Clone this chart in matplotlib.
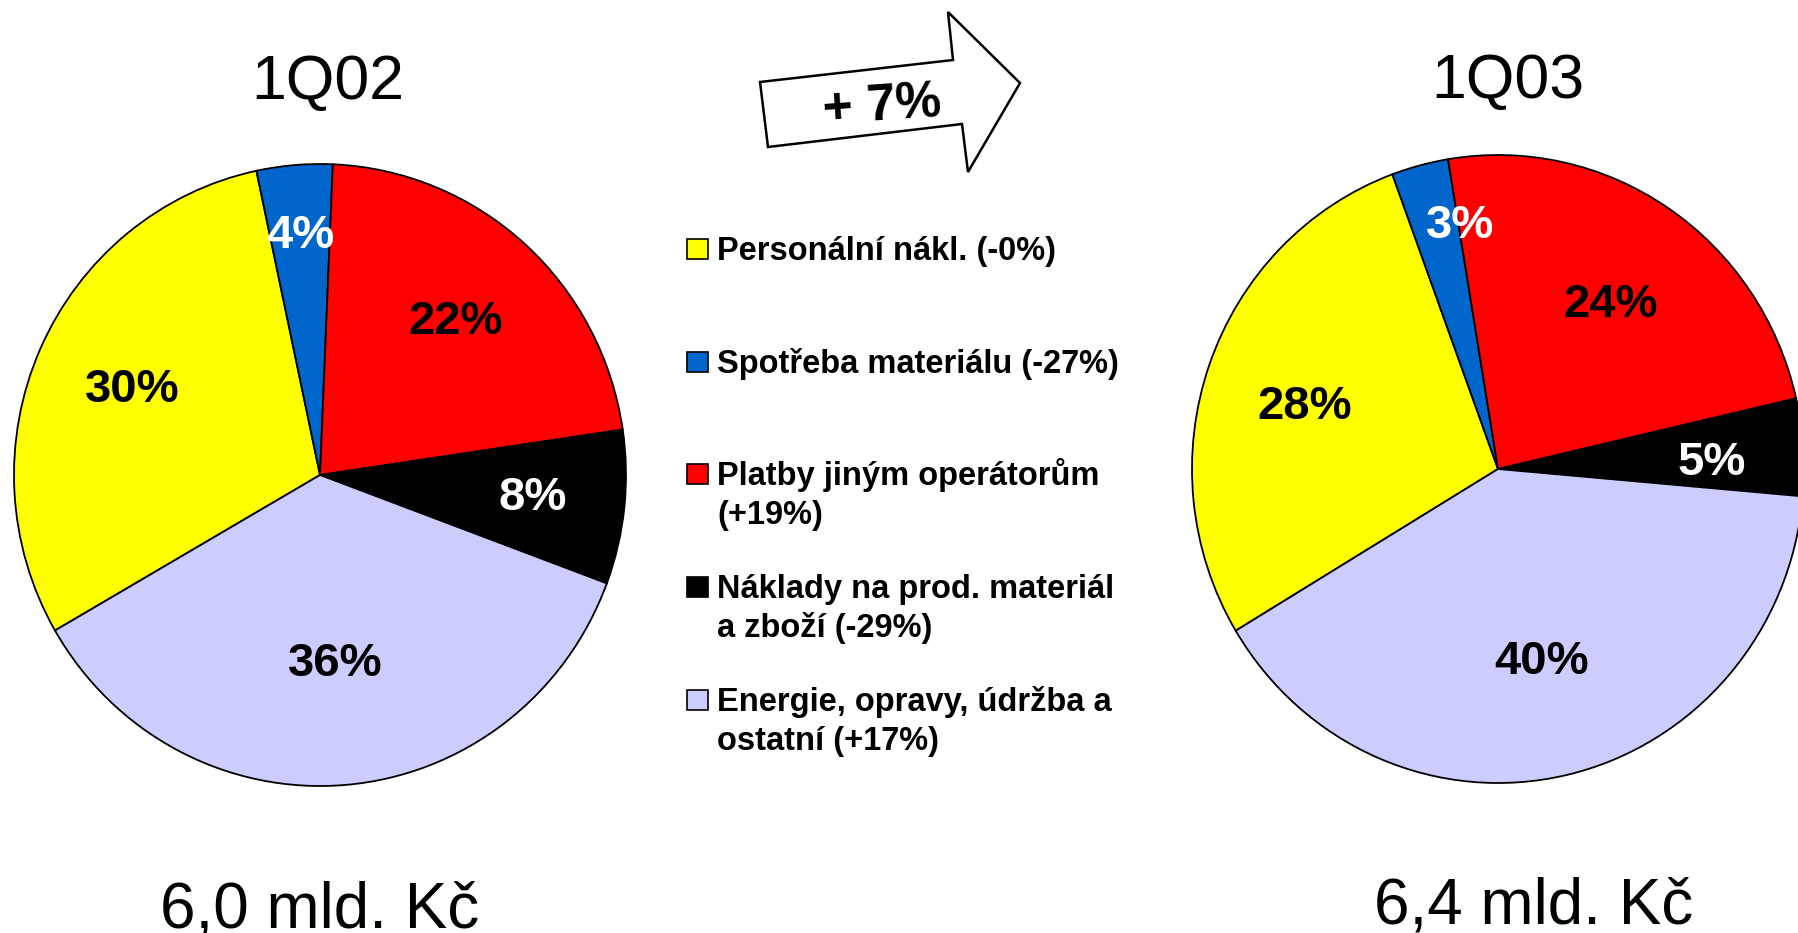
import matplotlib
matplotlib.use("Agg")
import matplotlib.pyplot as plt
from matplotlib.patches import Polygon, Rectangle

plt.rcParams['font.family'] = ['Liberation Sans', 'DejaVu Sans']

# data
categories = ["Personální nákl. (-0%)",
              "Spotřeba materiálu (-27%)",
              "Platby jiným operátorům\n(+19%)",
              "Náklady na prod. materiál\na zboží (-29%)",
              "Energie, opravy, údržba a\nostatní (+17%)"]
colors = ["#FFFF00", "#0066CC", "#FF0000", "#000000", "#CCCCFF"]
pct_colors = ["black", "white", "black", "white", "black"]
share_1q02 = [30, 4, 22, 8, 36]
share_1q03 = [28, 3, 24, 5, 40]
titles = ["1Q02", "1Q03"]
totals = ["6,0 mld. Kč", "6,4 mld. Kč"]
growth = "+ 7%"

W, H = 1799, 933
fig = plt.figure(figsize=(W / 100, H / 100), dpi=100)
fig.patch.set_facecolor("white")


def pie_axes(cx, cy, rx, ry, values, start, label_r):
    m = 1.1
    ax = fig.add_axes([(cx - rx * m) / W, (H - cy - ry * m) / H,
                       2 * rx * m / W, 2 * ry * m / H])
    wedges, texts, autotexts = ax.pie(
        values, colors=colors, startangle=start, counterclock=False,
        autopct='%d%%', pctdistance=1.0,
        wedgeprops=dict(edgecolor="black", linewidth=1.3),
        textprops=dict(fontsize=34, fontweight="bold"))
    for t, c, r in zip(autotexts, pct_colors, label_r):
        t.set_color(c)
        x, y = t.get_position()
        t.set_position((x * r, y * r))
    ax.set_aspect('auto')
    ax.set_xlim(-m, m)
    ax.set_ylim(-m, m)
    return ax, autotexts


pie_axes(320, 475, 306, 311, share_1q02, 210, [0.67, 0.77, 0.66, 0.70, 0.61])
ax2, at2 = pie_axes(1498, 469, 306, 314, share_1q03, 211, [0.67, 0.80, 0.66, 0.70, 0.63])
# nudge the right-hand labels to where the reference has them
nudges = [(0, -0.025), (0.08, 0), (0, -0.025), (0, -0.03), (0, 0)]
for t, (dx, dy) in zip(at2, nudges):
    x, y = t.get_position()
    t.set_position((x + dx, y + dy))

# titles and totals
fig.text(328 / W, 1 - 99 / H, titles[0], fontsize=45, ha="center", va="baseline")
fig.text(1508 / W, 1 - 98 / H, titles[1], fontsize=45, ha="center", va="baseline")
fig.text(320 / W, 1 - 927 / H, totals[0], fontsize=46, ha="center", va="baseline")
fig.text(1534 / W, 1 - 924 / H, totals[1], fontsize=46, ha="center", va="baseline")

# legend: square aligned with the first line of each label
for i, (lab, col) in enumerate(zip(categories, colors)):
    yc = 249 + i * 112.7
    fig.add_artist(Rectangle((687 / W, 1 - (yc + 10) / H), 21 / W, 20 / H,
                             transform=fig.transFigure, facecolor=col,
                             edgecolor="black", linewidth=1.2))
    for k, line in enumerate(lab.split("\n")):
        fig.text(717 / W, 1 - (yc + 11 + k * 39) / H, line, fontsize=23.5,
                 fontweight="bold", ha="left", va="baseline")

# growth arrow
arrow_px = [(760, 82), (768, 147), (962, 124), (968, 172),
            (1020, 83), (948, 12), (953, 60)]
fig.add_artist(Polygon([(x / W, 1 - y / H) for x, y in arrow_px], closed=True,
                       transform=fig.transFigure, facecolor="white",
                       edgecolor="black", linewidth=1.8))
fig.text(882 / W, 1 - 107 / H, growth, fontsize=37, fontweight="bold",
         ha="center", va="center", rotation=4)

fig.savefig("out.png", dpi=100)
